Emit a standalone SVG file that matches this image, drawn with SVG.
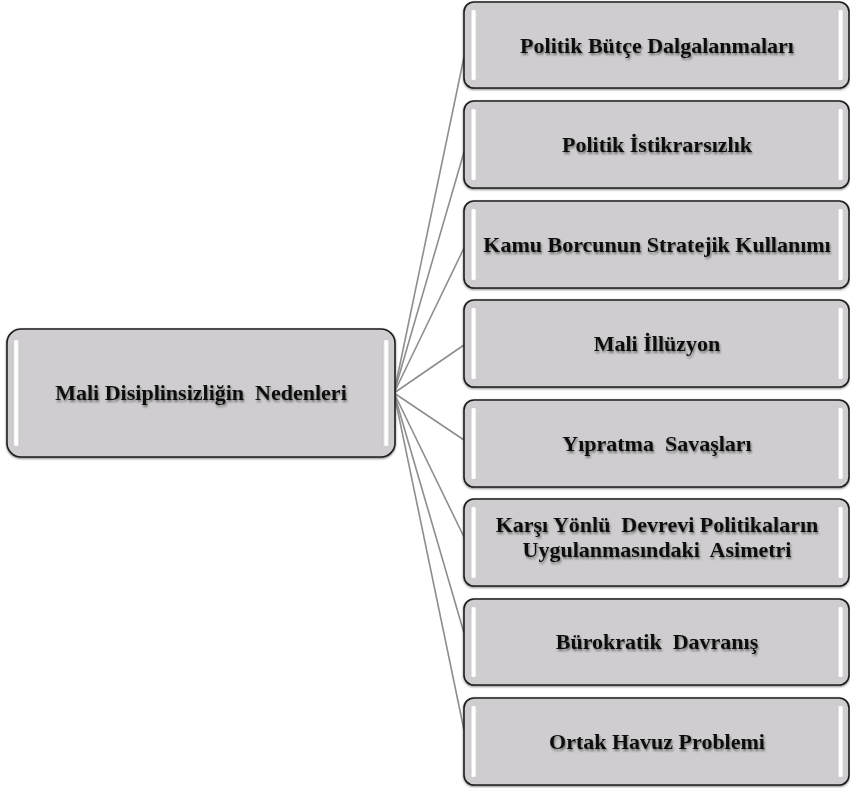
<svg xmlns="http://www.w3.org/2000/svg" width="850" height="788" viewBox="0 0 850 788">
<defs>
<linearGradient id="gloss" x1="0" y1="0" x2="1" y2="0">
<stop offset="0" stop-color="#bdbbbd"/>
<stop offset="0.35" stop-color="#ffffff"/>
<stop offset="0.7" stop-color="#ffffff"/>
<stop offset="1" stop-color="#c4c2c4"/>
</linearGradient>
<filter id="tshadow" x="-10%" y="-30%" width="120%" height="160%">
<feGaussianBlur in="SourceAlpha" stdDeviation="1"/>
<feOffset dx="1" dy="1.5" result="b"/>
<feFlood flood-color="#000" flood-opacity="0.45"/>
<feComposite in2="b" operator="in" result="s"/>
<feMerge><feMergeNode in="s"/><feMergeNode in="SourceGraphic"/></feMerge>
</filter>
<filter id="bshadow" x="-5%" y="-5%" width="110%" height="115%">
<feGaussianBlur in="SourceAlpha" stdDeviation="0.8"/>
<feOffset dx="0" dy="1" result="b"/>
<feFlood flood-color="#000" flood-opacity="0.5"/>
<feComposite in2="b" operator="in" result="s"/>
<feMerge><feMergeNode in="s"/><feMergeNode in="SourceGraphic"/></feMerge>
</filter>
</defs>
<style>
.box{fill:#cfcdcf;stroke:#1e1e1e;stroke-width:1.6;filter:url(#bshadow)}
.gl{fill:url(#gloss)}
.lbl{font-family:"Liberation Serif","Times New Roman",serif;font-weight:bold;font-size:22px;fill:#111;text-anchor:middle;filter:url(#tshadow)}
.conn line{stroke:#8e8e8e;stroke-width:1.6}
</style>
<rect width="850" height="788" fill="#ffffff"/>
<g id="connectors" class="conn">
<line x1="394" y1="393" x2="464" y2="57"/>
<line x1="394" y1="393" x2="464" y2="152"/>
<line x1="394" y1="393" x2="464" y2="248"/>
<line x1="394" y1="393" x2="464" y2="345"/>
<line x1="394" y1="393" x2="464" y2="440"/>
<line x1="394" y1="393" x2="464" y2="537"/>
<line x1="394" y1="393" x2="464" y2="633"/>
<line x1="394" y1="393" x2="464" y2="730"/>
</g>
<g id="root">
<rect class="box" x="7" y="329" width="388" height="128" rx="14"/>
<rect class="gl" x="12.5" y="340" width="7" height="106" rx="3.5"/>
<rect class="gl" x="382.5" y="340" width="7" height="106" rx="3.5"/>
<text class="lbl" x="201" y="400" xml:space="preserve">Mali Disiplinsizliğin  Nedenleri</text>
</g>
<g id="n1">
<rect class="box" x="464" y="2" width="385" height="86" rx="10"/>
<rect class="gl" x="470" y="10" width="7" height="70" rx="3.5"/>
<rect class="gl" x="837" y="10" width="7" height="70" rx="3.5"/>
<text class="lbl" x="657" y="53">Politik Bütçe Dalgalanmaları</text>
</g>
<g id="n2">
<rect class="box" x="464" y="101" width="385" height="87" rx="10"/>
<rect class="gl" x="470" y="109" width="7" height="71" rx="3.5"/>
<rect class="gl" x="837" y="109" width="7" height="71" rx="3.5"/>
<text class="lbl" x="657" y="152">Politik İstikrarsızlık</text>
</g>
<g id="n3">
<rect class="box" x="464" y="201" width="385" height="87" rx="10"/>
<rect class="gl" x="470" y="209" width="7" height="71" rx="3.5"/>
<rect class="gl" x="837" y="209" width="7" height="71" rx="3.5"/>
<text class="lbl" x="657" y="252">Kamu Borcunun Stratejik Kullanımı</text>
</g>
<g id="n4">
<rect class="box" x="464" y="300" width="385" height="87" rx="10"/>
<rect class="gl" x="470" y="308" width="7" height="71" rx="3.5"/>
<rect class="gl" x="837" y="308" width="7" height="71" rx="3.5"/>
<text class="lbl" x="657" y="351">Mali İllüzyon</text>
</g>
<g id="n5">
<rect class="box" x="464" y="400" width="385" height="87" rx="10"/>
<rect class="gl" x="470" y="408" width="7" height="71" rx="3.5"/>
<rect class="gl" x="837" y="408" width="7" height="71" rx="3.5"/>
<text class="lbl" x="657" y="451" xml:space="preserve">Yıpratma  Savaşları</text>
</g>
<g id="n6">
<rect class="box" x="464" y="499" width="385" height="87" rx="10"/>
<rect class="gl" x="470" y="507" width="7" height="71" rx="3.5"/>
<rect class="gl" x="837" y="507" width="7" height="71" rx="3.5"/>
<text class="lbl" x="657" y="532" xml:space="preserve">Karşı Yönlü  Devrevi Politikaların</text>
<text class="lbl" x="657" y="557" xml:space="preserve">Uygulanmasındaki  Asimetri</text>
</g>
<g id="n7">
<rect class="box" x="464" y="599" width="385" height="86" rx="10"/>
<rect class="gl" x="470" y="607" width="7" height="70" rx="3.5"/>
<rect class="gl" x="837" y="607" width="7" height="70" rx="3.5"/>
<text class="lbl" x="657" y="649" xml:space="preserve">Bürokratik  Davranış</text>
</g>
<g id="n8">
<rect class="box" x="464" y="698" width="385" height="87" rx="10"/>
<rect class="gl" x="470" y="706" width="7" height="71" rx="3.5"/>
<rect class="gl" x="837" y="706" width="7" height="71" rx="3.5"/>
<text class="lbl" x="657" y="749">Ortak Havuz Problemi</text>
</g>
</svg>
